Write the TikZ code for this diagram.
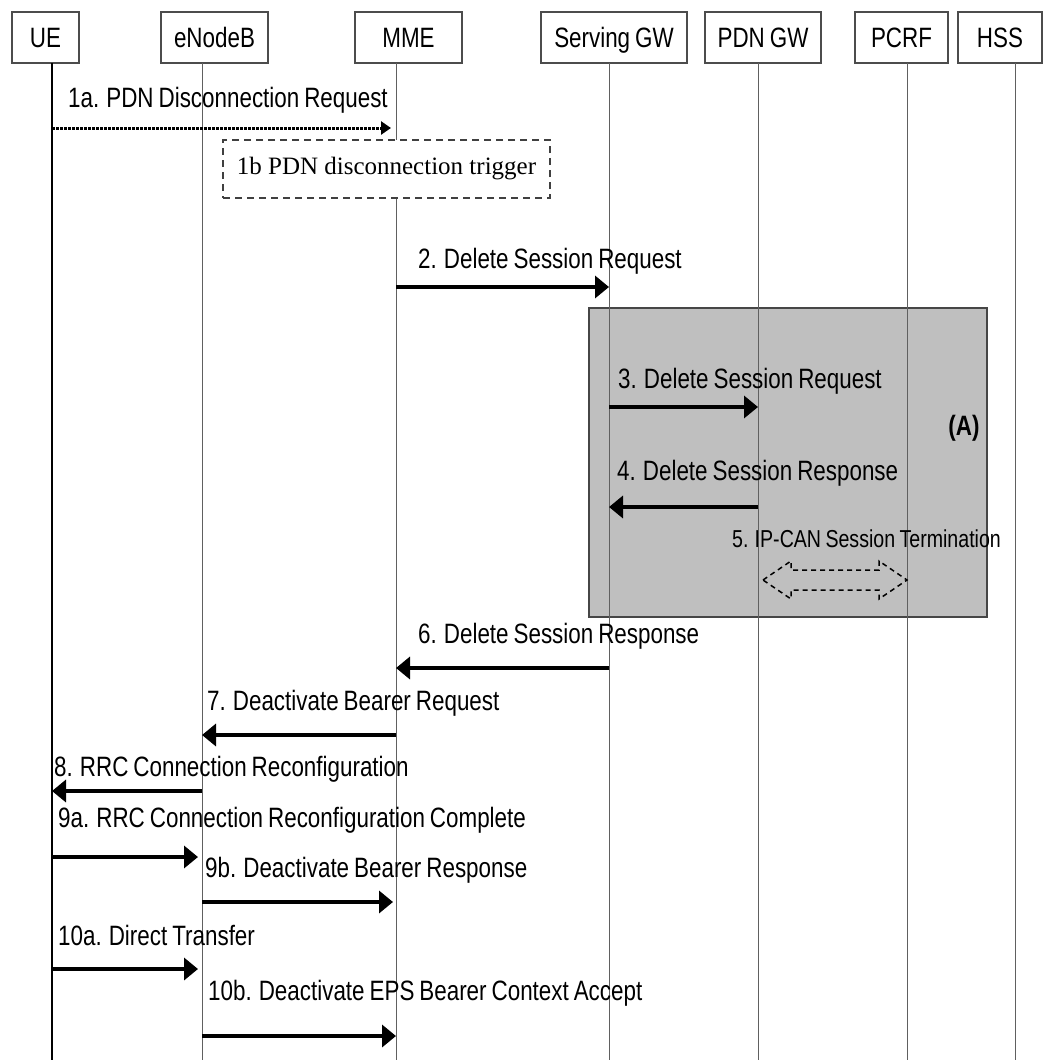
\documentclass[tikz,border=0pt]{standalone}
\usepackage{fontspec}
\setmainfont{Liberation Sans}[FakeStretch=0.8,WordSpace=0.8]
\newfontfamily\serifft{Liberation Serif}
\usetikzlibrary{arrows.meta}
\begin{document}
\begin{tikzpicture}[x=1pt,y=-1pt,
  actor/.style={draw=gray!60!black, line width=1.5pt, fill=white, inner sep=0pt, minimum height=51pt, text height=20pt, text depth=0pt, font=\fontsize{28}{30}\selectfont},
  life/.style={draw=gray!75!black, line width=1pt},
  msg/.style={line width=4.5pt, -{Triangle[length=14pt,width=22pt]}},
  lbl/.style={anchor=base west, inner sep=0pt, font=\fontsize{28}{30}\selectfont},
]
\useasboundingbox (0,0) rectangle (1047,1060);
% participants
\node[actor, minimum width=67pt]  (ue)   at (45.5,37.5)  {UE};
\node[actor, minimum width=107pt] (enb)  at (214.5,37.5) {eNodeB};
\node[actor, minimum width=107pt] (mme)  at (408.5,37.5) {MME};
\node[actor, minimum width=146pt] (sgw)  at (614,37.5)   {Serving GW};
\node[actor, minimum width=116pt] (pgw)  at (763,37.5)   {PDN GW};
\node[actor, minimum width=93pt]  (pcrf) at (901.5,37.5) {PCRF};
\node[actor, minimum width=84pt]  (hss)  at (1000,37.5)  {HSS};
% lifeline ends
\coordinate (ueT) at (52,63);    \coordinate (ueB) at (52,1060);
\coordinate (enbT) at (202,63);  \coordinate (enbB) at (202,1060);
\coordinate (mmeT) at (396,63);  \coordinate (mmeB) at (396,1060);
\coordinate (sgwT) at (609,63);  \coordinate (sgwB) at (609,1060);
\coordinate (pgwT) at (758,63);  \coordinate (pgwB) at (758,1060);
\coordinate (pcrfT) at (907,63); \coordinate (pcrfB) at (907,1060);
\coordinate (hssT) at (1015,63); \coordinate (hssB) at (1015,1060);
% shaded procedure box (A)
\node[draw=gray!55!black, fill=gray!50, line width=2pt, inner sep=0pt, minimum width=398pt, minimum height=309pt] (boxA) at (787.5,462.5) {};
% lifelines
\draw[line width=1.4pt] (ueT) -- (ueB);
\draw[life] (enbT) -- (enbB);
\draw[life] (mmeT) -- (mmeB);
\draw[life] (sgwT) -- (sgwB);
\draw[life] (pgwT) -- (pgwB);
\draw[life] (pcrfT) -- (pcrfB);
\draw[life] (hssT) -- (hssB);
% 1b trigger box
\node[draw=gray!50!black, dash pattern=on 7pt off 5pt, fill=white, line width=1.5pt, inner sep=0pt, minimum width=327pt, minimum height=58pt, font=\serifft\fontsize{25}{27}\selectfont] (trig) at (386.5,169) {1b PDN disconnection trigger};
% message rows
\coordinate (y1) at (0,128);
\coordinate (y2) at (0,287);
\coordinate (y3) at (0,407);
\coordinate (y4) at (0,507);
\coordinate (y6) at (0,668);
\coordinate (y7) at (0,735);
\coordinate (y8) at (0,791);
\coordinate (y9a) at (0,857);
\coordinate (y9b) at (0,902);
\coordinate (y10a) at (0,969);
\coordinate (y10b) at (0,1036);
% messages
\draw[line width=3pt, dash pattern=on 2.5pt off 1.5pt, -{Triangle[length=10pt,width=13pt]}, shorten >=5pt] (ueT |- y1) -- (mmeT |- y1);
\node[lbl] (l1a) at (68,107) {1a. PDN Disconnection Request};
\draw[msg] (mmeT |- y2) -- (sgwT |- y2);
\node[lbl] (l2) at (418,268) {2. Delete Session Request};
\draw[msg] (sgwT |- y3) -- (pgwT |- y3);
\node[lbl] (l3) at (618,388) {3. Delete Session Request};
\node[font=\fontsize{28}{30}\selectfont\bfseries, inner sep=0pt] (lA) at (964,428) {(A)};
\draw[msg] (pgwT |- y4) -- (sgwT |- y4);
\node[lbl] (l4) at (617,480) {4. Delete Session Response};
\node[lbl, font=\fontsize{24.5}{26}\selectfont] (l5) at (732,547) {5. IP-CAN Session Termination};
\draw[line width=1.5pt, dash pattern=on 5pt off 4pt, line join=miter] (763,580) -- (791,561) -- (791,570) -- (879,570) -- (879,561) -- (907,580) -- (879,599) -- (879,590) -- (791,590) -- (791,599) -- cycle;
\draw[msg] (sgwT |- y6) -- (mmeT |- y6);
\node[lbl] (l6) at (418,643) {6. Delete Session Response};
\draw[msg] (mmeT |- y7) -- (enbT |- y7);
\node[lbl] (l7) at (207,710) {7. Deactivate Bearer Request};
\draw[msg] (enbT |- y8) -- (ueT |- y8);
\node[lbl] (l8) at (54,776) {8. RRC Connection Reconfiguration};
\draw[msg, shorten >=4pt] (ueT |- y9a) -- (enbT |- y9a);
\node[lbl] (l9a) at (58,827) {9a. RRC Connection Reconfiguration Complete};
\draw[msg, shorten >=3pt] (enbT |- y9b) -- (mmeT |- y9b);
\node[lbl] (l9b) at (205,877) {9b. Deactivate Bearer Response};
\draw[msg, shorten >=4pt] (ueT |- y10a) -- (enbT |- y10a);
\node[lbl] (l10a) at (58,945) {10a. Direct Transfer};
\draw[msg] (enbT |- y10b) -- (mmeT |- y10b);
\node[lbl] (l10b) at (208,1000) {10b. Deactivate EPS Bearer Context Accept};
\end{tikzpicture}
\end{document}
